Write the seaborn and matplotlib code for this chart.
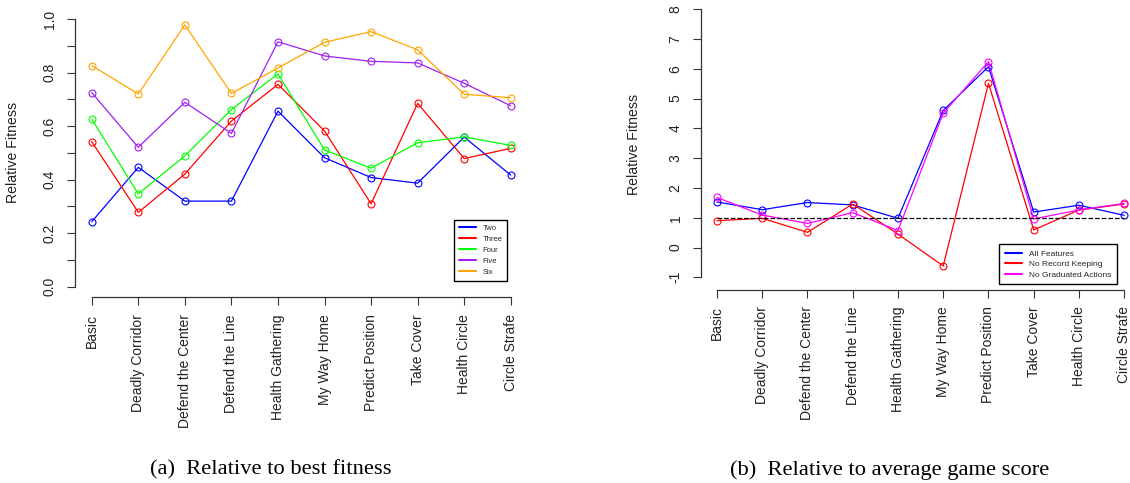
import matplotlib
matplotlib.use("Agg")
import matplotlib.pyplot as plt
from matplotlib.lines import Line2D
import seaborn as sns

# tasks on the x axis
tasks = ["Basic", "Deadly Corridor", "Defend the Center", "Defend the Line",
         "Health Gathering", "My Way Home", "Predict Position", "Take Cover",
         "Health Circle", "Circle Strafe"]

# (a) relative to best fitness
two = [0.243, 0.446, 0.320, 0.320, 0.656, 0.482, 0.408, 0.387, 0.559, 0.417]
three = [0.542, 0.278, 0.421, 0.619, 0.756, 0.582, 0.310, 0.685, 0.479, 0.517]
four = [0.626, 0.347, 0.489, 0.662, 0.795, 0.511, 0.443, 0.538, 0.560, 0.528]
five = [0.725, 0.521, 0.689, 0.573, 0.915, 0.862, 0.842, 0.836, 0.760, 0.676]
six = [0.826, 0.720, 0.978, 0.722, 0.817, 0.913, 0.953, 0.885, 0.719, 0.706]
left_names = ["Two", "Three", "Four", "Five", "Six"]
left_colors = ["#0000FF", "#FF0000", "#00FF00", "#A020F0", "#FFA500"]
left_yticks = [0.0, 0.1, 0.2, 0.3, 0.4, 0.5, 0.6, 0.7, 0.8, 0.9, 1.0]
left_ytick_labels = ["0.0", "", "0.2", "", "0.4", "", "0.6", "", "0.8", "", "1.0"]

# (b) relative to average game score
all_features = [1.53, 1.27, 1.51, 1.43, 0.98, 4.60, 6.07, 1.19, 1.42, 1.08]
no_record = [0.90, 0.98, 0.51, 1.46, 0.45, -0.62, 5.51, 0.59, 1.26, 1.46]
no_graduated = [1.68, 1.09, 0.81, 1.17, 0.57, 4.51, 6.24, 0.96, 1.26, 1.48]
right_names = ["All Features", "No Record Keeping", "No Graduated Actions"]
right_colors = ["#0000FF", "#FF0000", "#FF00FF"]
right_yticks = [-1, 0, 1, 2, 3, 4, 5, 6, 7, 8]
baseline = 1

captions = ["(a)  Relative to best fitness", "(b)  Relative to average game score"]

sns.set_style("ticks")
plt.rcParams["font.family"] = ["Liberation Sans", "DejaVu Sans"]
txt = "#222222"
plt.rcParams.update({
    "axes.edgecolor": "#333333", "axes.linewidth": 0.9,
    "xtick.color": "#333333", "ytick.color": "#333333",
    "xtick.labelcolor": txt, "ytick.labelcolor": txt,
    "xtick.major.size": 5.5, "ytick.major.size": 5.5,
    "xtick.major.width": 0.8, "ytick.major.width": 0.8,
    "xtick.major.pad": 6.5, "ytick.major.pad": 7.5,
    "xtick.direction": "out", "ytick.direction": "out",
})

fig = plt.figure(figsize=(11.3, 4.83), dpi=100)
ax1 = fig.add_axes([0.06637, 0.38406, 0.40044, 0.59876])
ax2 = fig.add_axes([0.62009, 0.40062, 0.38920, 0.59938])


def draw(ax, series, colors):
    for vals, c in zip(series, colors):
        sns.lineplot(x=tasks, y=vals, color=c, ax=ax, sort=False, lw=0.9,
                     marker="o", ms=5, mfc="none", mec=c, mew=0.8)


def style(ax, yticks, ylabels, lo, hi):
    ax.set_xlim(-0.36, 9.36)
    ax.set_xticks(range(len(tasks)))
    ax.set_xticklabels(tasks, rotation=90, fontsize=10, va="top", ha="center")
    ax.set_yticks(yticks)
    ax.set_yticklabels(ylabels, rotation=90, fontsize=10, va="center")
    ax.spines["top"].set_visible(False)
    ax.spines["right"].set_visible(False)
    ax.spines["left"].set_bounds(lo, hi)
    ax.spines["bottom"].set_bounds(0, len(tasks) - 1)
    ax.set_xlabel("")
    ax.set_ylabel("Relative Fitness", fontsize=10.2, color=txt)


# (a)
draw(ax1, [two, three, four, five, six], left_colors)
ax1.set_ylim(-0.04, 1.04)
style(ax1, left_yticks, left_ytick_labels, 0, 1)
ax1.yaxis.set_label_coords(-0.122, 0.5)
handles = [Line2D([], [], color=c, lw=1.5) for c in left_colors]
leg = ax1.legend(handles, left_names, loc="lower right", bbox_to_anchor=(0.9554, 0.057),
                 borderaxespad=0, fontsize=5.5, fancybox=False, framealpha=1,
                 edgecolor="black", handlelength=2.2, handletextpad=0.9,
                 labelspacing=0.48, borderpad=0.65)
leg.get_frame().set_linewidth(1.0)

# (b)
draw(ax2, [all_features, no_record, no_graduated], right_colors)
ax2.hlines(baseline, 0, len(tasks) - 1, colors="black", linestyles="--", lw=0.9)
ax2.set_ylim(-1.41, 8.31)
style(ax2, right_yticks, [str(v) for v in right_yticks], -1, 8)
ax2.yaxis.set_label_coords(-0.136, 0.5)
handles = [Line2D([], [], color=c, lw=1.5) for c in right_colors]
leg = ax2.legend(handles, right_names, loc="lower right", bbox_to_anchor=(0.9466, 0.0173),
                 borderaxespad=0, fontsize=6, fancybox=False, framealpha=1,
                 edgecolor="black", handlelength=2.1, handletextpad=0.8,
                 labelspacing=0.3, borderpad=0.7)
leg.get_frame().set_linewidth(1.0)

fig.text(150 / 1130, 0.0166, captions[0], fontsize=16.2, family="Liberation Serif",
         ha="left", va="baseline", color="black")
fig.text(730 / 1130, 0.0166, captions[1], fontsize=16.2, family="Liberation Serif",
         ha="left", va="baseline", color="black")

fig.savefig("out.png", dpi=100)
